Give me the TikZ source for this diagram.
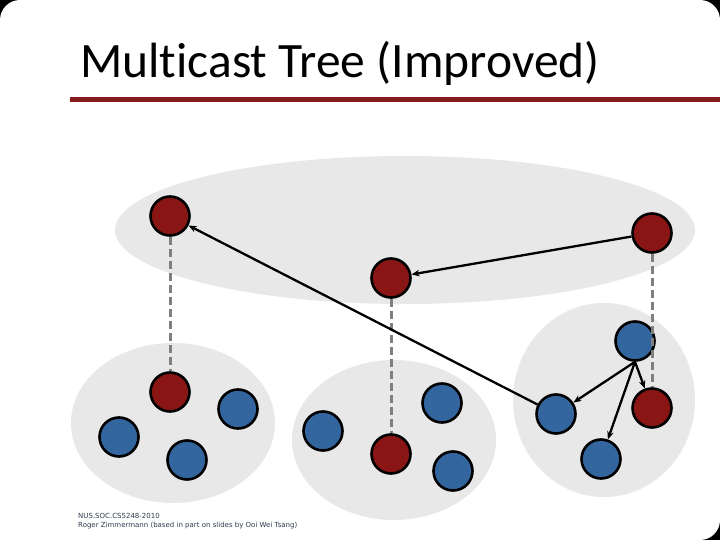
\documentclass[tikz,border=0pt]{standalone}
\usepackage{fontspec}
\setmainfont{Carlito}[Ligatures={NoCommon}]
\newfontfamily\footfont{DejaVu Sans}
\usetikzlibrary{arrows.meta}
\definecolor{nred}{HTML}{8A1515}
\definecolor{nblue}{HTML}{33659E}
\definecolor{barred}{HTML}{841C1C}
\definecolor{cloud}{HTML}{E8E8E8}
\definecolor{vgray}{HTML}{808080}
\definecolor{foot}{HTML}{2E3B4E}
\begin{document}
\begin{tikzpicture}[x=1pt,y=-1pt,
  peer/.style={circle,draw=black,line width=2.6pt,minimum size=39pt,inner sep=0pt},
  rp/.style={peer,fill=nred},
  bp/.style={peer,fill=nblue},
  arr/.style={-{Stealth[length=8pt,width=6.5pt]},line width=2.3pt,black},
  vlink/.style={draw=vgray,line width=3pt,dash pattern=on 8pt off 4pt},
  cloudfill/.style={fill=cloud}]
\useasboundingbox (0,0) rectangle (720,540);
% slide background
\fill[black] (0,0) rectangle (720,540);
\fill[white,rounded corners=20pt] (0,0) rectangle (720,540);
\fill[white] (0,500) rectangle (40,540);
% title
\node[anchor=base west,inner sep=0pt,font=\fontsize{49.5}{52}\selectfont] (title) at (80,78) {Multicast Tree (Improved)};
\fill[barred] (70,97) rectangle (720,102);
% groups
\fill[cloudfill] (405,230) ellipse [x radius=290pt,y radius=74pt];
\fill[cloudfill] (173,423) ellipse [x radius=102pt,y radius=80pt];
\fill[cloudfill] (394,440) ellipse [x radius=102pt,y radius=80pt];
\fill[cloudfill] (604,400) ellipse [x radius=91pt,y radius=97pt];
% top-level nodes
\node[rp] (R1) at (170,216) {};
\node[rp] (R2) at (391,278) {};
\node[rp] (R3) at (652,233) {};
% left cluster
\node[rp] (LR) at (170,392) {};
\node[bp] (LB1) at (238,409) {};
\node[bp] (LB2) at (119,437) {};
\node[bp] (LB3) at (187,460) {};
% middle cluster
\node[bp] (MB1) at (323,431) {};
\node[rp] (MR) at (391,454) {};
\node[bp] (MB2) at (442,403) {};
\node[bp] (MB3) at (453,471) {};
% right cluster
\node[bp] (RB0) at (635,341) {};
\node[bp] (RB1) at (556,414) {};
\node[rp] (RR) at (652,408) {};
\node[bp] (RB2) at (601,459) {};
% vertical links
\draw[vlink] (R1.south) -- (LR.north);
\draw[vlink] (R2.south) -- (MR.north);
\draw[vlink] (R3.south) -- (RR.north);
% arrows
\draw[arr] (R3) -- (R2);
\draw[arr] (RB1) -- (R1);
\draw[arr] (RB0.south) -- (RB1);
\draw[arr] (RB0.south) -- (RB2);
\draw[arr] (RB0.south) -- (RR);
% footer
\node[anchor=base west,inner sep=0pt,align=left,text=foot,font=\footfont\fontsize{7}{8.5}\selectfont] (footer) at (78,527) {NUS.SOC.CS5248-2010\\Roger Zimmermann (based in part on slides by Ooi Wei Tsang)};
\end{tikzpicture}
\end{document}
